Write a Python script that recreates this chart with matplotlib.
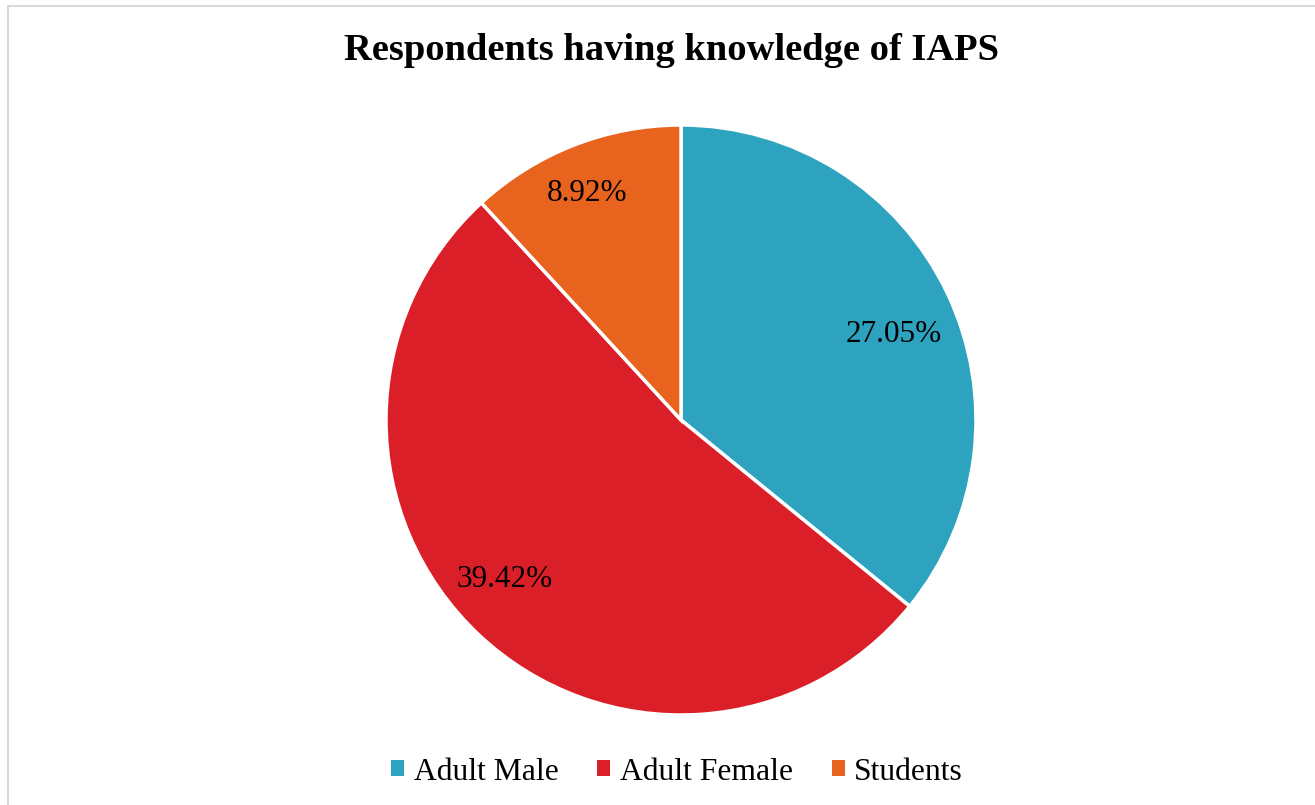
import matplotlib
matplotlib.use("Agg")
import matplotlib.pyplot as plt
from matplotlib.patches import Rectangle
import numpy as np

title = "Respondents having knowledge of IAPS"
categories = ["Adult Male", "Adult Female", "Students"]
values = [27.05, 39.42, 8.92]
colors = ["#2EA3BF", "#DA1F28", "#E8641E"]

plt.rcParams["font.family"] = ["Liberation Serif", "DejaVu Serif"]

W, H, DPI = 1315, 805, 100
fig = plt.figure(figsize=(W / DPI, H / DPI), dpi=DPI)
fig.patch.set_facecolor("white")

# outer chart frame
fig.add_artist(Rectangle((8 / W, -0.01), 1.2, (805 - 6) / H + 0.01,
                         transform=fig.transFigure, fill=False,
                         edgecolor="#D9D9D9", linewidth=1.5))

cx, cy, r = 681, 420, 295
ax = fig.add_axes([(cx - r) / W, (H - cy - r) / H, 2 * r / W, 2 * r / H])
wedges, _ = ax.pie(values, colors=colors, startangle=90, counterclock=False,
                   wedgeprops=dict(edgecolor="white", linewidth=2.5))
ax.set_xlim(-1, 1)
ax.set_ylim(-1, 1)
ax.set_aspect("equal")
ax.axis("off")

label_radius = [0.78, 0.80, 0.84]
label_shift = [-3, -5, 1]
for w, v, rad, sh in zip(wedges, values, label_radius, label_shift):
    ang = np.deg2rad((w.theta1 + w.theta2) / 2 + sh)
    ax.text(rad * np.cos(ang), rad * np.sin(ang) - 0.008, f"{v:.2f}%",
            ha="center", va="center", fontsize=22.5, color="black")

fig.text(671 / W, 1 - 50 / H, title, ha="center", va="center",
         fontsize=27.7, fontweight="bold")

handles = [Rectangle((0, 0), 1, 1, facecolor=c, edgecolor="none") for c in colors]
fig.legend(handles, categories, loc="center", bbox_to_anchor=(677 / W, 1 - 772 / H),
           ncol=3, frameon=False, fontsize=22.8, handlelength=0.42, handleheight=0.42,
           handletextpad=0.3, columnspacing=1.22)

fig.savefig("out.png", dpi=DPI)
